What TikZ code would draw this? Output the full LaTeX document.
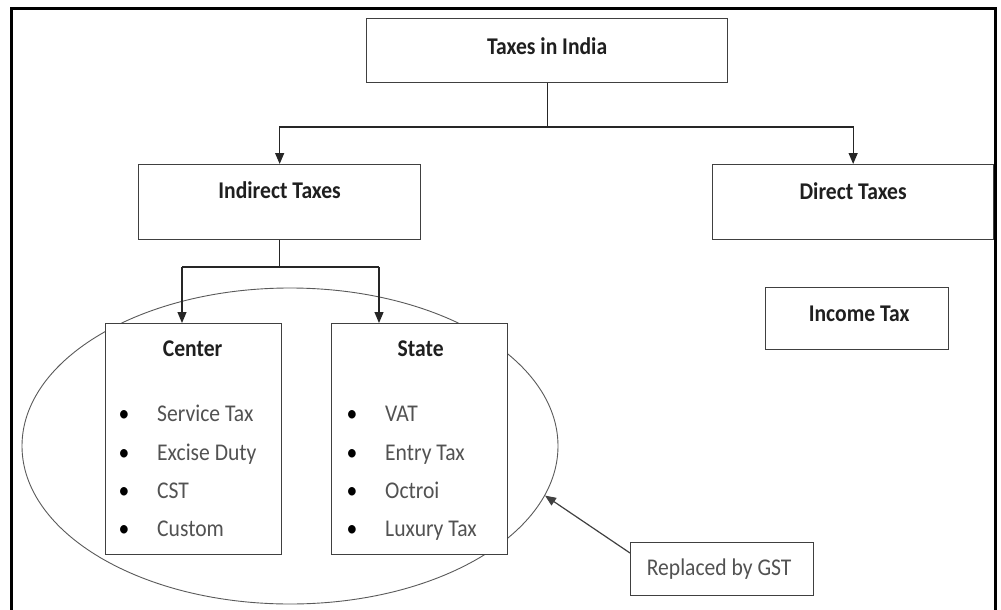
\documentclass[tikz,border=0pt]{standalone}
\usepackage{fontspec}
\setmainfont{Carlito}[FakeStretch=0.9]
\usetikzlibrary{arrows.meta,calc,shapes.geometric}
\begin{document}
\begin{tikzpicture}[x=1pt,y=-1pt,
  box/.style={draw=black!75,line width=1.3pt,fill=white,anchor=north west,inner sep=0pt},
  ttl/.style={font=\fontsize{24}{28}\selectfont\bfseries,text=black!88,inner sep=0pt},
  itm/.style={font=\fontsize{24}{28}\selectfont,text=black!68,inner sep=0pt,anchor=base west},
  bul/.style={font=\fontsize{24}{28}\selectfont,text=black,inner sep=0pt,anchor=base},
  conn/.style={draw=black!85,line width=1.2pt},
  arr/.style={conn,-{Triangle[length=11pt,width=9pt]}}]
\useasboundingbox (0,0) rectangle (1001,610);
% outer frame
\draw[line width=3pt,black] (11,610) -- (11,9) -- (995,9) -- (995,610);
% ellipse
\node[ellipse,draw=black!65,line width=0.9pt,inner sep=0pt,minimum width=536pt,minimum height=316pt] (ell) at (290,446) {};
% boxes
\node[box,minimum width=361pt,minimum height=64pt] (top) at (366,18) {};
\node[box,minimum width=282pt,minimum height=75pt] (ind) at (138,164) {};
\node[box,minimum width=281pt,minimum height=75pt] (dir) at (712,164) {};
\node[box,minimum width=183pt,minimum height=62pt] (inc) at (765,287) {};
\node[box,minimum width=176pt,minimum height=231pt] (cen) at (105,323) {};
\node[box,minimum width=176pt,minimum height=231pt] (sta) at (331,323) {};
\node[box,minimum width=183pt,minimum height=53pt] (gst) at (630,542) {};
% titles
\node[ttl] (tTop) at ($(top.north)+(0,28)$) {Taxes in India};
\node[ttl] (tInd) at ($(ind.north)+(0,26)$) {Indirect Taxes};
\node[ttl] (tDir) at ($(dir.north)+(0,27)$) {Direct Taxes};
\node[ttl] (tInc) at ($(inc.north)+(2,27)$) {Income Tax};
\node[ttl] (tCen) at ($(cen.north)+(-1,26)$) {Center};
\node[ttl] (tSta) at ($(sta.north)+(1,26)$) {State};
\node[font=\fontsize{24}{28}\selectfont,text=black!68,inner sep=0pt] (tGst) at ($(gst.center)+(-3,0)$) {Replaced by GST};
% center items
\node[bul] (cb1) at ($(cen.north west)+(19,98)$) {\textbullet};
\node[bul] (cb2) at ($(cen.north west)+(19,137)$) {\textbullet};
\node[bul] (cb3) at ($(cen.north west)+(19,175)$) {\textbullet};
\node[bul] (cb4) at ($(cen.north west)+(19,213)$) {\textbullet};
\node[itm] (ci1) at ($(cen.north west)+(52,98)$) {Service Tax};
\node[itm] (ci2) at ($(cen.north west)+(52,137)$) {Excise Duty};
\node[itm] (ci3) at ($(cen.north west)+(52,175)$) {CST};
\node[itm] (ci4) at ($(cen.north west)+(52,213)$) {Custom};
% state items
\node[bul] (sb1) at ($(sta.north west)+(21,98)$) {\textbullet};
\node[bul] (sb2) at ($(sta.north west)+(21,137)$) {\textbullet};
\node[bul] (sb3) at ($(sta.north west)+(21,175)$) {\textbullet};
\node[bul] (sb4) at ($(sta.north west)+(21,213)$) {\textbullet};
\node[itm] (si1) at ($(sta.north west)+(54,98)$) {VAT};
\node[itm] (si2) at ($(sta.north west)+(54,137)$) {Entry Tax};
\node[itm] (si3) at ($(sta.north west)+(54,175)$) {Octroi};
\node[itm] (si4) at ($(sta.north west)+(54,213)$) {Luxury Tax};
% connectors
\coordinate (bar) at (0,127);
\draw[arr] (top.south) -- (top.south |- bar) -| (ind.north);
\draw[arr] (top.south |- bar) -| (dir.north);
\coordinate (cL) at (182,267);
\coordinate (cR) at (379,267);
\draw[conn] (ind.south) -- (ind.south |- cL);
\draw[conn] (cL) -- (cR);
\draw[arr] (cL) -- (cL |- cen.north);
\draw[arr] (cR) -- (cR |- sta.north);
\draw[conn,draw=black!75,-{Triangle[length=11pt,width=9pt]}] ([yshift=-11pt]gst.north west) -- (ell.-11.4);
\end{tikzpicture}
\end{document}
